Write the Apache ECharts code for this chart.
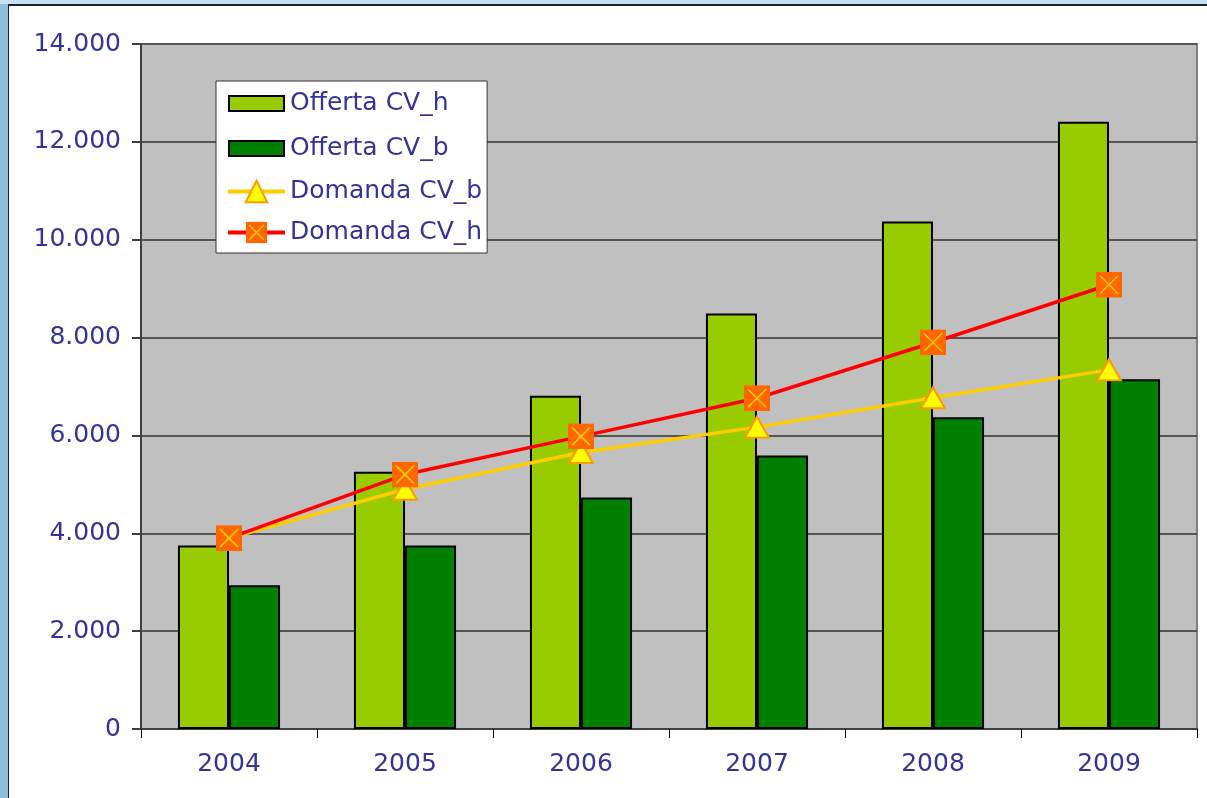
<!DOCTYPE html>
<html>
<head>
<meta charset="utf-8">
<script src="https://cdn.jsdelivr.net/npm/echarts@6/dist/echarts.min.js"></script>
<style>
  html, body { margin: 0; padding: 0; }
  body { width: 1207px; height: 798px; background: #8dbedd; position: relative; overflow: hidden; }
  .topstrip { position: absolute; left: 0; top: 0; width: 1207px; height: 4px; background: #c4e2f3; }
  #chart { position: absolute; left: 8px; top: 4px; width: 1199px; height: 794px; background: #fff;
           border-left: 1px solid #222; border-top: 2px solid #222; box-sizing: border-box; }
</style>
</head>
<body>
<div class="topstrip"></div>
<div id="chart"></div>
<script>
// categories
const years = ['2004', '2005', '2006', '2007', '2008', '2009']
// bar values
const offertaH = [3750, 5260, 6810, 8490, 10370, 12410]
const offertaB = [2940, 3750, 4730, 5590, 6370, 7150]
// line values
const domandaB = [3900, 4900, 5650, 6170, 6770, 7340]
const domandaH = [3900, 5200, 5980, 6760, 7900, 9080]
// y axis
const yMin = 0
const yMax = 14000
const yStep = 2000

const txt = '#333399'
const font = 'DejaVu Sans'

const squareX = 'image://data:image/svg+xml;utf8,' + encodeURIComponent(
  '<svg xmlns="http://www.w3.org/2000/svg" width="26" height="26">' +
  '<rect x="0" y="0" width="26" height="26" fill="#ff6600"/>' +
  '<path d="M4 4 L22 22 M22 4 L4 22" stroke="#ffcc00" stroke-width="1.6"/></svg>')

// plain rectangle for bar legend items, padded so the taller item height keeps it thin
const barIcon = 'path://M0,0 M57,27 M1,6 L56,6 L56,21 L1,21 Z'

const chart = echarts.init(document.getElementById('chart'))
chart.setOption({
  animation: false,
  textStyle: { fontFamily: font, color: txt },
  grid: {
    left: 132, right: 10, top: 38, bottom: 69,
    show: true, backgroundColor: '#c0c0c0', borderColor: '#808080', borderWidth: 2
  },
  legend: {
    orient: 'vertical',
    left: 207, top: 75,
    backgroundColor: '#fff',
    borderColor: '#333', borderWidth: 1,
    padding: [8, 5, 8, 10],
    itemWidth: 57, itemHeight: 27, itemGap: 16,
    lineStyle: { width: 4 },
    textStyle: { fontFamily: font, fontSize: 25, color: txt },
    data: [
      { name: 'Offerta CV_h', icon: barIcon },
      { name: 'Offerta CV_b', icon: barIcon },
      { name: 'Domanda CV_b' },
      { name: 'Domanda CV_h' }
    ]
  },
  xAxis: {
    type: 'category',
    data: years,
    axisLine: { lineStyle: { color: '#404040', width: 2 } },
    axisTick: { show: true, length: 9, lineStyle: { color: '#000', width: 1 } },
    axisLabel: { fontFamily: font, fontSize: 25, color: txt, margin: 23 },
    splitLine: { show: false }
  },
  yAxis: {
    type: 'value',
    min: yMin, max: yMax, interval: yStep,
    axisLine: { show: true, lineStyle: { color: '#404040', width: 2 } },
    axisTick: { show: true, length: 9, lineStyle: { color: '#404040', width: 2 } },
    axisLabel: {
      fontFamily: font, fontSize: 25, color: txt, margin: 20,
      formatter: v => v === 0 ? '0' : (v / 1000).toFixed(3)
    },
    splitLine: { lineStyle: { color: '#555', width: 2 } }
  },
  series: [
    {
      name: 'Offerta CV_h', type: 'bar', data: offertaH,
      barGap: '0%', barCategoryGap: '42%',
      itemStyle: { color: '#99cc00', borderColor: '#000', borderWidth: 2 }
    },
    {
      name: 'Offerta CV_b', type: 'bar', data: offertaB,
      itemStyle: { color: '#008000', borderColor: '#000', borderWidth: 2 }
    },
    {
      name: 'Domanda CV_b', type: 'line', data: domandaB,
      symbol: 'triangle', symbolSize: [24, 21],
      lineStyle: { color: '#ffcc00', width: 3.5 },
      itemStyle: { color: '#ffff00', borderColor: '#ff9900', borderWidth: 2 }
    },
    {
      name: 'Domanda CV_h', type: 'line', data: domandaH,
      symbol: squareX, symbolSize: 26,
      lineStyle: { color: '#ff0000', width: 3.5 },
      itemStyle: { color: '#ff6600' }
    }
  ]
})
</script>
</body>
</html>
